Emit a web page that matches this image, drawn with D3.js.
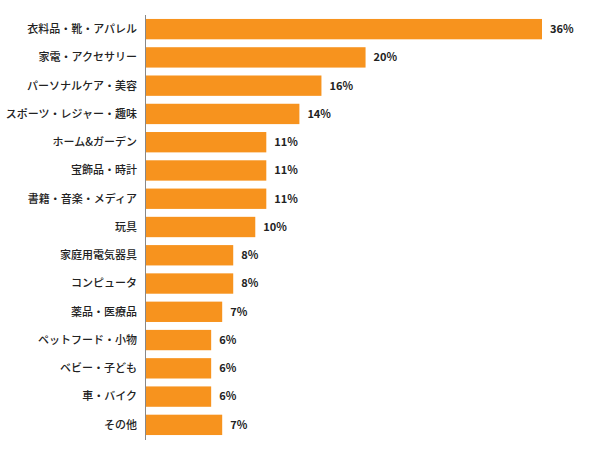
<!DOCTYPE html>
<html><head><meta charset="utf-8">
<script src="https://cdn.jsdelivr.net/npm/d3@7"></script>
<style>body{margin:0;background:#fff}</style></head>
<body><svg id="c" width="600" height="455"></svg>
<script>
const categories=["衣料品・靴・アパレル","家電・アクセサリー","パーソナルケア・美容","スポーツ・レジャー・趣味","ホーム&ガーデン","宝飾品・時計","書籍・音楽・メディア","玩具","家庭用電気器具","コンピュータ","薬品・医療品","ペットフード・小物","ベビー・子ども","車・バイク","その他"];
const values=[36,20,16,14,11,11,11,10,8,8,7,6,6,6,7];
const svg=d3.select("#c");
const x=d3.scaleLinear().domain([0,36]).range([145,542]);
const y=d3.scaleBand().domain(categories).range([15,439]).paddingInner(0.28).paddingOuter(0.14);
svg.selectAll("rect").data(values).join("rect")
 .attr("x",x(0)).attr("y",(d,i)=>y(categories[i])).attr("width",d=>x(d)-x(0)).attr("height",y.bandwidth()).attr("fill","#F7931E");
svg.append("line").attr("x1",145.5).attr("x2",145.5).attr("y1",15).attr("y2",440).attr("stroke","#888");
const f="'Noto Sans CJK JP','Noto Sans',sans-serif";
svg.selectAll("text.c").data(categories).join("text").attr("class","c")
 .attr("x",137).attr("y",d=>y(d)+y.bandwidth()/2).attr("dy","0.35em").attr("text-anchor","end")
 .attr("font-family",f).attr("font-size",11).attr("font-weight",500).attr("fill","#222").text(d=>d);
svg.selectAll("text.v").data(values).join("text").attr("class","v")
 .attr("x",d=>x(d)+8).attr("y",(d,i)=>y(categories[i])+y.bandwidth()/2).attr("dy","0.35em")
 .attr("font-family",f).attr("font-size",11).attr("font-weight",700).attr("fill","#222").text(d=>d+"%");
</script></body></html>
